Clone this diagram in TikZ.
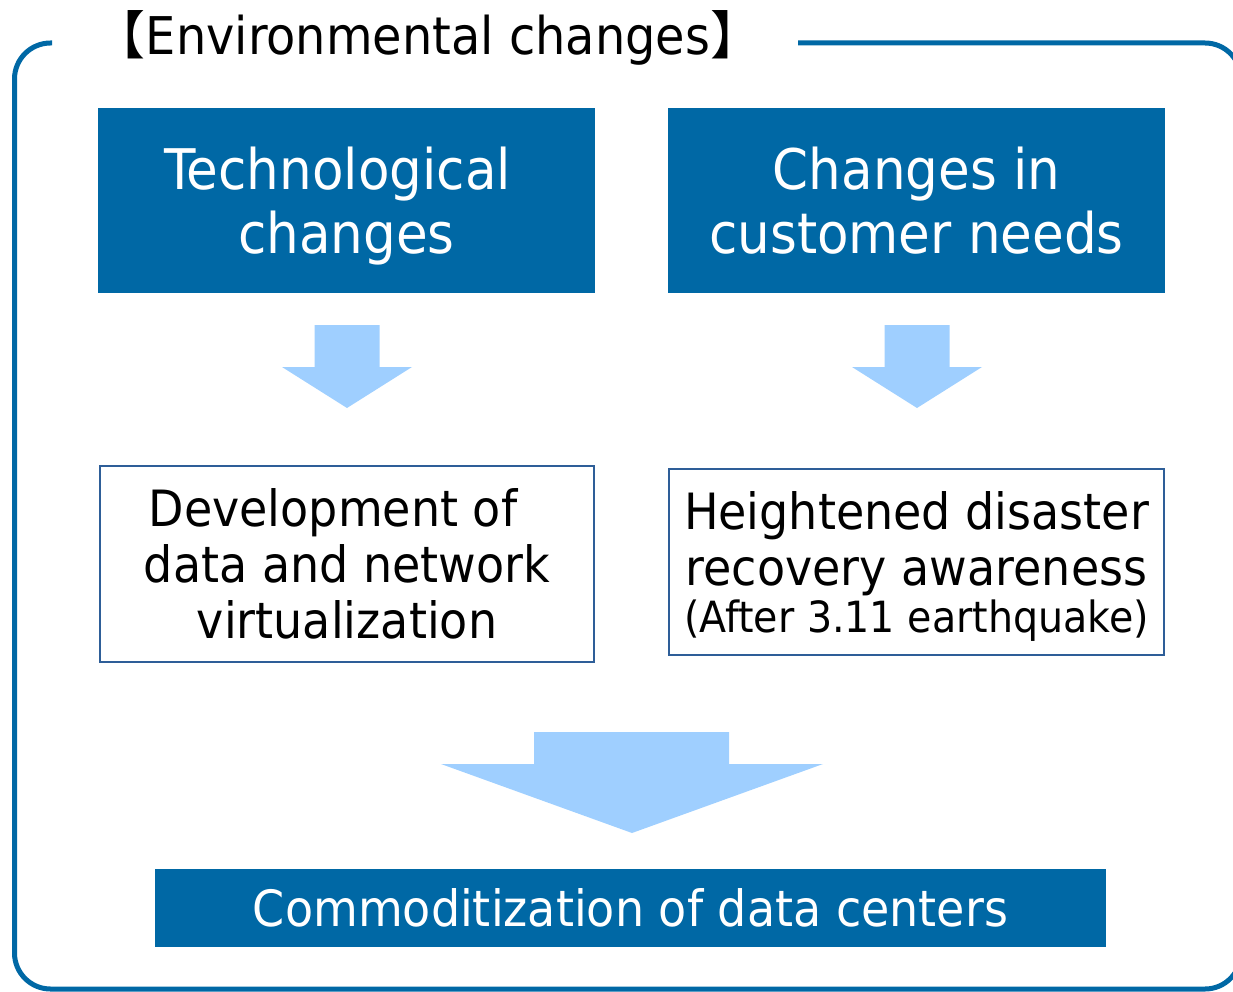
\documentclass[tikz,border=0pt]{standalone}
\usepackage{fontspec}
\setmainfont{DejaVu Sans}[FakeStretch=0.92]
\newfontfamily\cjkfont{Noto Sans CJK JP}
\definecolor{darkbox}{RGB}{0,104,165}
\definecolor{lightarrow}{RGB}{159,207,255}
\definecolor{thinline}{RGB}{46,94,152}
\tikzstyle{headbox}=[fill=darkbox,text=white,inner sep=0pt,align=center,font=\fontsize{56}{64}\selectfont]
\tikzstyle{effectbox}=[draw=thinline,line width=2pt,inner sep=0pt,align=center,font=\fontsize{50}{56}\selectfont]
\tikzstyle{blockarrow}=[fill=lightarrow]
\newcommand{\nodepth}[1]{\raisebox{0pt}[\height][0pt]{#1}}

\begin{document}
\begin{tikzpicture}[x=1pt,y=-1pt]
\useasboundingbox (0,0) rectangle (1233,992);
\draw[darkbox,line width=5pt,rounded corners=36pt] (52,43) -- (14.5,43) -- (14.5,989) -- (1241,989) -- (1241,43) -- (798,43);
\node[anchor=base,font=\fontsize{52}{60}\selectfont] at (428,55) (title) {{\cjkfont 【}Environmental changes{\cjkfont 】}};
\node[headbox,minimum width=497pt,minimum height=185pt] at (346.5,200.5) (tech) {Technological\hspace*{18pt}\\\nodepth{changes}};
\node[headbox,minimum width=497pt,minimum height=185pt] at (916.5,200.5) (needs) {Changes in\\customer needs};
\foreach \cx in {347,917}
  \fill[blockarrow] (\cx-32.5,325) -- (\cx+32.5,325) -- (\cx+32.5,367) -- (\cx+65,367) -- (\cx,408) -- (\cx-65,367) -- (\cx-32.5,367) -- cycle;
\node[effectbox,minimum width=494pt,minimum height=196pt] at (347,564) (virt) {Development of\hspace*{28pt}\\data and network\hspace*{14pt}\\virtualization};
\node[effectbox,minimum width=495pt,minimum height=186pt] at (916.5,562) (recov) {Heightened disaster\\recovery awareness\\[-9pt]\fontsize{43}{47}\selectfont\nodepth{(After 3.11 earthquake)}};
\fill[blockarrow] (534,732) -- (729,732) -- (729,764) -- (823,764) -- (632,833) -- (441,764) -- (534,764) -- cycle;
\node[headbox,minimum width=951pt,minimum height=78pt,font=\fontsize{50}{56}\selectfont] at (630.5,908) (commod) {Commoditization of data centers};
\end{tikzpicture}
\end{document}
